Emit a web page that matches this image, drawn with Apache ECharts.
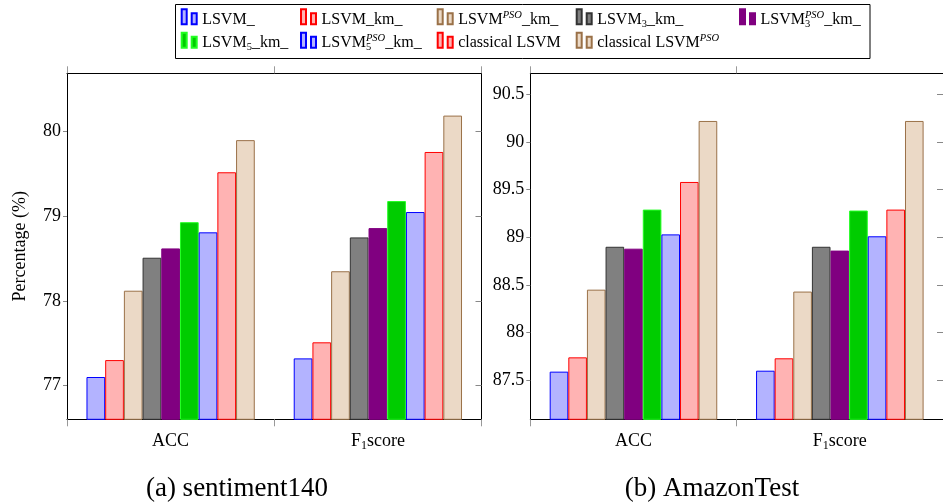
<!DOCTYPE html>
<html>
<head>
<meta charset="utf-8">
<script src="https://cdn.jsdelivr.net/npm/echarts@6/dist/echarts.min.js"></script>
<style>
  html, body { margin: 0; padding: 0; background: #fff; }
  #chart { width: 943px; height: 504px; }
</style>
</head>
<body>
<div id="chart"></div>
<script>
// Metrics shown on both panels
const categories = ['ACC', 'F1score'];

// Methods, in bar order
const methods = [
  'LSVM_', 'LSVM_km_', 'LSVM^PSO_km_', 'LSVM3_km_', 'LSVM3^PSO_km_',
  'LSVM5_km_', 'LSVM5^PSO_km_', 'classical LSVM', 'classical LSVM^PSO'
];

// (a) sentiment140, percentage per method
const sentimentAcc = [77.10, 77.30, 78.12, 78.51, 78.62, 78.93, 78.81, 79.52, 79.90];
const sentimentF1  = [77.32, 77.51, 78.35, 78.75, 78.86, 79.18, 79.05, 79.76, 80.19];

// (b) AmazonTest, percentage per method
const amazonAcc = [87.59, 87.74, 88.45, 88.90, 88.88, 89.29, 89.03, 89.58, 90.22];
const amazonF1  = [87.60, 87.73, 88.43, 88.90, 88.86, 89.28, 89.01, 89.29, 90.22];

// Tick labels on the value axes
const sentimentTicks = [77, 78, 79, 80];
const amazonTicks = [87.5, 88, 88.5, 89, 89.5, 90, 90.5];

// Fill / outline per method
const fills   = ['#b3b3ff', '#ffb3b3', '#ebd9c6', '#808080', '#800080', '#00cc00', '#b3b3ff', '#ffb3b3', '#ebd9c6'];
const strokes = ['#0000ff', '#ff0000', '#9a7148', '#333333', '#800080', '#22ff22', '#0000ff', '#ff0000', '#9a7148'];

// Legend text with sub/superscripts
const legendRich = {
  'LSVM_': '{m|LSVM_}',
  'LSVM_km_': '{m|LSVM_km_}',
  'LSVM^PSO_km_': '{m|LSVM}{sup|PSO}{m|_km_}',
  'LSVM3_km_': '{m|LSVM}{sub|3}{m|_km_}',
  'LSVM3^PSO_km_': '{m|LSVM}{subz|3}{sup|PSO}{m|_km_}',
  'LSVM5_km_': '{m|LSVM}{sub|5}{m|_km_}',
  'LSVM5^PSO_km_': '{m|LSVM}{subz|5}{sup|PSO}{m|_km_}',
  'classical LSVM': '{m|classical LSVM}',
  'classical LSVM^PSO': '{m|classical LSVM}{sup|PSO}'
};

const FONT = 'Liberation Serif';
const legendCols = [180.7, 300, 436.7, 575.7, 739];
const legendRows = [8.3, 31.7];

// Two small bars; the trailing move-to leaves room under them so the
// label sits on the bars' baseline.
const legendIcon = 'path://M0,0H5V15H0ZM10,4H15V15H10ZM0,20';

const legends = methods.map((name, i) => {
  const row = i < 5 ? 0 : 1;
  const col = i < 5 ? i : i - 5;
  return {
    data: [name],
    left: legendCols[col],
    top: legendRows[row],
    padding: 0,
    itemWidth: 16,
    itemHeight: 20,
    icon: legendIcon,
    selectedMode: false,
    formatter: n => legendRich[n],
    textStyle: {
      fontFamily: FONT,
      color: '#000',
      rich: {
        m: { fontFamily: FONT, fontSize: 16, lineHeight: 20, color: '#000' },
        sub: { fontFamily: FONT, fontSize: 10.5, lineHeight: 10, verticalAlign: 'bottom', color: '#000' },
        subz: { fontFamily: FONT, fontSize: 10.5, lineHeight: 10, width: 0, verticalAlign: 'bottom', color: '#000' },
        sup: { fontFamily: FONT, fontSize: 10.5, fontStyle: 'italic', lineHeight: 10, verticalAlign: 'top', color: '#000' }
      }
    }
  };
});

const grids = [
  { left: 67, top: 73.3, width: 414.5, height: 346 },
  { left: 530.3, top: 73.3, width: 414, height: 346 }
];

function catLabel(v) {
  return v === 'F1score' ? '{n|F}{s|1}{n|score}' : '{n|' + v + '}';
}

function xAxes(gridIndex) {
  return [
    {
      type: 'category', gridIndex, data: categories, position: 'bottom',
      axisLine: { lineStyle: { color: '#000', width: 1 } },
      axisTick: { show: true, length: 7, inside: false, lineStyle: { color: '#999' } },
      axisLabel: {
        margin: 11, formatter: catLabel,
        rich: {
          n: { fontFamily: FONT, fontSize: 18, lineHeight: 22, color: '#000' },
          s: { fontFamily: FONT, fontSize: 12, lineHeight: 14, verticalAlign: 'bottom', color: '#000' }
        }
      }
    },
    {
      type: 'category', gridIndex, data: categories, position: 'top',
      axisLine: { lineStyle: { color: '#000', width: 1 } },
      axisTick: { show: true, length: 7, inside: false, lineStyle: { color: '#999' } },
      axisLabel: { show: false }
    }
  ];
}

function yAxes(gridIndex, min, max, ticks, name) {
  return [
    {
      type: 'value', gridIndex, min, max, position: 'left',
      name, nameLocation: 'middle', nameGap: 38,
      nameTextStyle: { fontFamily: FONT, fontSize: 18, color: '#000' },
      splitLine: { show: false },
      axisLine: { show: true, lineStyle: { color: '#000', width: 1 } },
      axisTick: { show: true, length: 4, inside: false, customValues: ticks, lineStyle: { color: '#888' } },
      axisLabel: { margin: 6, customValues: ticks, fontFamily: FONT, fontSize: 18, color: '#000' }
    },
    {
      type: 'value', gridIndex, min, max, position: 'right',
      splitLine: { show: false },
      axisLine: { show: true, lineStyle: { color: '#000', width: 1 } },
      axisTick: { show: true, length: 6, inside: true, customValues: ticks, lineStyle: { color: '#888' } },
      axisLabel: { show: false, customValues: ticks }
    }
  ];
}

function panelSeries(accVals, f1Vals, axisIndex) {
  return methods.map((name, i) => ({
    type: 'bar',
    name,
    xAxisIndex: axisIndex,
    yAxisIndex: axisIndex,
    data: [accVals[i], f1Vals[i]],
    barGap: '0%',
    barCategoryGap: '18.8%',
    itemStyle: { color: fills[i], borderColor: strokes[i], borderWidth: 1 },
    emphasis: { disabled: true },
    animation: false
  }));
}

const option = {
  backgroundColor: '#fff',
  animation: false,
  legend: legends,
  grid: grids,
  xAxis: [...xAxes(0), ...xAxes(1)],
  yAxis: [
    ...yAxes(0, 76.6, 80.69, sentimentTicks, 'Percentage (%)'),
    ...yAxes(1, 87.09, 90.72, amazonTicks, '')
  ],
  series: [
    ...panelSeries(sentimentAcc, sentimentF1, 0),
    ...panelSeries(amazonAcc, amazonF1, 2)
  ],
  graphic: [
    {
      type: 'rect', shape: { x: 175.5, y: 4.5, width: 694.5, height: 54 },
      style: { fill: 'none', stroke: '#000', lineWidth: 1 }, silent: true, z: 0
    },
    {
      type: 'text', x: 237, y: 489,
      style: { text: '(a) sentiment140', font: '27px "Liberation Serif"', fill: '#000', textAlign: 'center', textVerticalAlign: 'middle' }
    },
    {
      type: 'text', x: 712, y: 489,
      style: { text: '(b) AmazonTest', font: '27px "Liberation Serif"', fill: '#000', textAlign: 'center', textVerticalAlign: 'middle' }
    }
  ]
};

const chart = echarts.init(document.getElementById('chart'), null, { renderer: 'canvas' });
chart.setOption(option);
</script>
</body>
</html>
